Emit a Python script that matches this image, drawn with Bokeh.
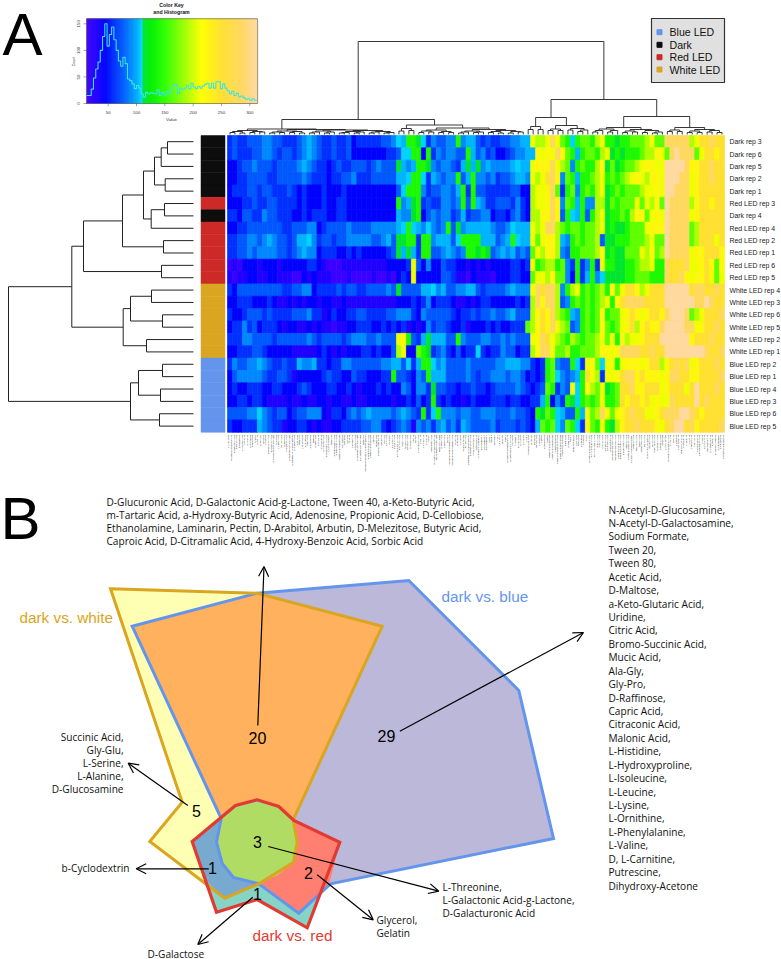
from bokeh.plotting import figure
from bokeh.embed import file_html
from bokeh.resources import INLINE
from bokeh.core.properties import value
from bokeh.models import Range1d, Arrow, OpenHead, LinearColorMapper, ColumnDataSource
import numpy as np

# ------------------ DATA ------------------
ROW_LABELS = ["Dark rep 3","Dark rep 6","Dark rep 5","Dark rep 2","Dark rep 1","Red LED rep 3","Dark rep 4",
              "Red LED rep 4","Red LED rep 2","Red LED rep 1","Red LED rep 6","Red LED rep 5",
              "White LED rep 4","White LED rep 3","White LED rep 6","White LED rep 5","White LED rep 2","White LED rep 1",
              "Blue LED rep 2","Blue LED rep 1","Blue LED rep 4","Blue LED rep 3","Blue LED rep 6","Blue LED rep 5"]
GROUPS = ["Blue LED","Dark","Red LED","White LED"]
GROUP_COLORS = {"Blue LED":"#6495ed","Dark":"#0d0d0d","Red LED":"#cd2a27","White LED":"#daa520"}

# estimated cell levels, one string per row, four blocks of 25 columns
LEVEL_VALUES = dict(zip("abcdefghijklmnopq",[15,30,45,60,75,90,103,109,115,140,165,190,210,225,250,285,312]))
HEAT_1 = ["deddeeeffeedddefgfeddedde","dedddeeffedeedefgfeddedde","ccdeefeeedeeeefgfeddcdedd","ccddeeeeddeeeeefedddcddee",
          "cdddeedeedddedcdcccdcccdc","cccddeddeeddddcdcccdccddc","ddceeddfeedddccdcdddccddc","ccddeeeeeeeddeeeffcdeeeef",
          "ddeeffefgfeedegghfdeedeef","ddeefeffffeedefgffcdddccd","abacccbcccbcccccddcbaaabb","babbccbbccbbbaacbcbbbaaab",
          "dceeeeeeeeeddeeffcddddede","ccdddcccdcbbcbcbccbccbbcb","dccdeeededdddeeefddbcdccd","cddfdecdddcbccbbcbcbbabbc",
          "dddffeeeedeeeeeefedeeeede","ccdddeedcccccbbbbbcdcbcbc","dfeeffgfeddeddgffgddcddff","cefffffeddeedbcccccdeddcc",
          "cdccdddccddcccdedcccddccd","ccddcddcbbbbcbbcbbccbccbb","eeeeffhfedeecdeefffcbddce","dccdddgfeddbccddcbcbbccdd"]
HEAT_2 = ["cdddddeefhgjjihdfeeffjfgg","cccccccddehhjjcjdfeffeejge","eeedefeeeigfgjjifeffedgig","fdddeeeeegghjjhdgfeffjegj",
          "cccccccccehjjjfdeeffegjdj","cccccccccjfgijdeddffefjej","cccccccccgffijcefeffdegde","eeeefffffghjhgfhfefjeifgg",
          "ffffeefgeiijjdjjfgggehjjj","cdcccccdeigigdjjeefgfefjj","bbbbbbbccccdmecfcceddccbc","aaaabaabacdcmccccceedbbac",
          "eddeeeefeieeeegghfgeeffgg","bbbbbbbbbcccdcdfcdddcbbcb","deeddddeefffdcfeeeeedcdde","cdddccdcdcdbcbcfdeedccdbc",
          "fffeefeeemnjedgigggeejfee","ccddcdccelmcckjidefdcecdd","eeeeeeffggehdgjjhfgeeeefe","eddcccddjeedcfejgggeeeefe",
          "cbcccdcdccfecffdieeddcdde","cbbcccccbccdcecdjdcdccbcd","fefgffffefgfedjdhjfffeffe","ddeeffdcdefebfefdfgefdgfe"]
HEAT_3 = ["ededdeeffggmllmpmkjhjkkjl","fdeccdeffggnmnmpnkjgjkkjl","ifgffffghggmnnnpmlkfjkjjl","ffefdeefggfmlmopnfkjgjjkl",
          "eedddddeecclmmnpkdjkfjkjl","gfddeeedfdclmmnpnfkjgjffl","effcddcefdcllnnpnejhgjejl","gggfeefhgggmlmpplkjkkjkkl",
          "jgggefgjhggmkmnnlgfjkjkkl","ijiefgfgefekmlnnlfejjkkkl","bcbccccddcdmjklljkfdjdfjd","bbbacccddcckmmlnkkfcjdgjf",
          "edeeeefgfffmpopplfjlmjkjk","cddcccccdcdlpnpplefjkjkjk","deefeefgeeelnonplkjgfjkjk","ccdcdccdddklnonpmlkefjkjk",
          "effeefefeeemnpomlkjlkjkkl","hdcddfeecddlnppmkkljjkkkl","eeeeffgggffdcdjkfeejhdmnk","deefffeffecdcdjkhfefgjoml",
          "ddcdeeeefedcdekjdfemhjnlk","cccdddcddccddgjcfdjihjkjk","efffeeefeedcjikjhgeejgmkl","eeefdeeededcgkjkhfkjhdnkj"]
HEAT_4 = ["mjjijjkkklmkkppppplmoopoo","mijijjjkllnmkpqpppkmoonoo","nikijkklmnnmmqqqqpnnoopoo","mjkjklmnmlnnmqqqppmnoopoo",
          "mijkjkkklmmnmqqpppmnooooo","likjkkkmkmlnkqpppplnoonoo","mijjkjlnnkmnmqppppmnooooo","mijiijkkkmnnnqppppklooooon",
          "eiijjjkkklmkkqppppklooomo","nijiikkkmlnklqppppmnnooon","mjjiijjkllmjjpooopmmnonkn","hiiiijjkkkjjjpoopnmnnomkm",
          "ljnkmoonlmoooqqqqqoppoopo","lmjnoppppooooqqqqqqppqpoo","njkkmnonmnoonpqqqpklmooop","nkjkmnolnonnpqqqqppmnoopo",
          "mkmjnlmmnoooqqqqqqnooopoo","nnmnppppoopooqqqqqqqqpoop","hmmjmnnnmnoolnopopmnooopo","dmmnoppnonnnmnppoonnoooop",
          "mijkoopnnooomnooomoqooopo","mjjkonoonomnmmpooooqopooo","pmkmnopoommnopppqqponoooo","mjilnoopooonmopqqopnoooop"]

# dendrograms: node = [height, left, right], leaf = 0
ROW_TREE = [185,[121.7,[110,[71,[50,[39,[32.3,[26,0,0],0],[28.3,0,0]],[42.3,[29,0,0],0]],[30,0,0]],[32,0,0]],
            [70.3,[63,[42,0,0],[31,0,0]],[47,0,0]]],[63,[55,[31,0,0],[33,0,0]],[34,0,0]]]
COL_LL = [5.5,[4,[3,[2,0,0],[1.5,0,0]],[3,[2,0,0],[2.5,0,0]]],
          [5,[3.5,[2.5,[1.5,0,0],[2,0,0]],[3,[2,0,0],[1.5,0,0]]],
           [4.5,[3.5,[2.5,[1.5,0,0],0],[2.5,[1.5,0,0],0]],
            [4,[3,[2,[1.5,0,0],0],[2.5,[1.5,0,0],0]],[3,[2.5,[1.5,0,0],0],[2,[1.5,0,0],0]]]]]]
COL_LR = [9.5,[6,[3.5,0,0],[4,0,0]],
          [6.5,[4.5,[3.5,[2,0,0],[2.5,0,0]],[3,[2,0,0],[2,0,0]]],
           [5,[3.5,[2.5,[1.5,0,0],0],[2.5,[2,0,0],0]],[4,[3,[2,0,0],[1.5,0,0]],[3,[1.5,0,0],[2.5,0,0]]]]]]
COL_R1 = [17,[8,[5,0,0],[5,0,0]],[9,[5.5,[4,0,0],[4,0,0]],[6,[4.5,0,0],[4.5,[3,0,0],0]]]]
COL_R2 = [18,[7,[5.5,[4,[2.5,0,0],0],[4,[2.5,0,0],0]],[5,[3.5,[2,0,0],[2.5,0,0]],[4,[2,0,0],[2.5,[1.5,0,0],0]]]],
          [7,[4.5,[3,0,0],[3,0,0]],[5,[3.5,[2,0,0],[2,0,0]],[4,[2.5,0,0],[2,0,0]]]]]
COL_TREE = [93,[15,COL_LL,COL_LR],[35,COL_R1,COL_R2]]

# histogram of the colour key: 75 bins, width 4, from value 12
HIST_COUNTS = [15,15,27,48,65,78,100,126,150,108,130,144,120,100,80,70,87,75,46,43,37,28,34,29,18,12,21,18,20,19,
               18,26,15,21,16,23,18,29,36,36,19,29,26,29,34,28,38,31,28,32,29,33,36,38,29,38,29,41,41,28,
               37,29,24,18,23,15,19,13,14,11,8,9,6,9,6]
KEY_X_TICKS = [50,100,150,200,250,300]
KEY_Y_TICKS = [0,50,100,150]

COMPOUNDS = """L-Arabinose|N-Acetyl-D-Glucosamine|D-Saccharic Acid|Succinic Acid|D-Galactose|L-Aspartic Acid|L-Proline|D-Alanine|D-Trehalose|D-Mannose|Dulcitol|D-Serine|D-Sorbitol|Glycerol|L-Fucose|D-Glucuronic Acid|D-Gluconic Acid|D,L-a-Glycerol Phosphate|D-Xylose|L-Lactic Acid|Formic Acid|D-Mannitol|L-Glutamic Acid|D-Glucose-6-Phosphate|D-Galactonic Acid-g-Lactone|D,L-Malic Acid|D-Ribose|Tween 20|L-Rhamnose|D-Fructose|Acetic Acid|a-D-Glucose|Maltose|D-Melibiose|Thymidine|L-Asparagine|D-Aspartic Acid|D-Glucosaminic Acid|1,2-Propanediol|Tween 40|a-Keto-Glutaric Acid|a-Keto-Butyric Acid|a-Methyl-D-Galactoside|a-D-Lactose|Lactulose|Sucrose|Uridine|L-Glutamine|m-Tartaric Acid|D-Glucose-1-Phosphate|D-Fructose-6-Phosphate|Tween 80|a-Hydroxy-Glutaric Acid-g-Lactone|a-Hydroxy-Butyric Acid|b-Methyl-D-Glucoside|Adonitol|Maltotriose|2-Deoxy-Adenosine|Adenosine|Gly-Asp|Citric Acid|m-Inositol|D-Threonine|Fumaric Acid|Bromo-Succinic Acid|Propionic Acid|Mucic Acid|Glycolic Acid|Glyoxylic Acid|D-Cellobiose|Inosine|Gly-Gln|Tricarballylic Acid|L-Serine|L-Threonine|L-Alanine|Ala-Gly|Acetoacetic Acid|N-Acetyl-b-D-Mannosamine|Mono-Methyl Succinate|Methyl Pyruvate|D-Malic Acid|L-Malic Acid|Gly-Pro|p-Hydroxy-Phenylacetic Acid|m-Hydroxy-Phenylacetic Acid|Tyramine|D-Psicose|L-Lyxose|Glucuronamide|Pyruvic Acid|L-Galactonic Acid-g-Lactone|D-Galacturonic Acid|b-Phenylethylamine|Ethanolamine|Chondroitin Sulfate C|a-Cyclodextrin|b-Cyclodextrin|g-Cyclodextrin|Dextrin|Gelatin|Glycogen|Inulin|Laminarin|Mannan|Pectin|N-Acetyl-D-Galactosamine|N-Acetyl-Neuraminic Acid|b-D-Allose|Amygdalin|D-Arabinose|D-Arabitol|L-Arabitol|Arbutin|2-Deoxy-D-Ribose|i-Erythritol|D-Fucose|Gentiobiose|L-Glucose|Lactitol|D-Melezitose|Maltitol|a-Methyl-D-Glucoside|b-Methyl-D-Galactoside|3-Methylglucose|b-Methyl-D-Glucuronic Acid|a-Methyl-D-Mannoside|b-Methyl-D-Xyloside|Palatinose|D-Raffinose|Salicin|Sedoheptulosan|L-Sorbose|Stachyose|D-Tagatose|Turanose|Xylitol|N-Acetyl-D-Glucosaminitol|g-Amino-Butyric Acid|d-Amino Valeric Acid|Butyric Acid|Capric Acid|Caproic Acid|Citraconic Acid|Citramalic Acid|D-Glucosamine|2-Hydroxy-Benzoic Acid|4-Hydroxy-Benzoic Acid|b-Hydroxy-Butyric Acid|g-Hydroxy-Butyric Acid|a-Keto-Valeric Acid|Itaconic Acid|5-Keto-D-Gluconic Acid|D-Lactic Acid Methyl Ester|Malonic Acid|Melibionic Acid|Oxalic Acid|Oxalomalic Acid|Quinic Acid|D-Ribono-1,4-Lactone|Sebacic Acid|Sorbic Acid|Succinamic Acid|D-Tartaric Acid|L-Tartaric Acid|Acetamide|L-Alaninamide|N-Acetyl-L-Glutamic Acid|L-Arginine|Glycine|L-Histidine|L-Homoserine|Hydroxy-L-Proline|L-Isoleucine|L-Leucine|L-Lysine|L-Methionine|L-Ornithine|L-Phenylalanine|L-Pyroglutamic Acid|L-Valine|D,L-Carnitine|Sec-Butylamine|D,L-Octopamine|Putrescine|Dihydroxy-Acetone|2,3-Butanediol|2,3-Butanone|3-Hydroxy-2-Butanone""".split("|")

# Panel B
TOP_LINES = ["D-Glucuronic Acid, D-Galactonic Acid-g-Lactone, Tween 40, a-Keto-Butyric Acid,",
             "m-Tartaric Acid, a-Hydroxy-Butyric Acid, Adenosine, Propionic Acid, D-Cellobiose,",
             "Ethanolamine, Laminarin, Pectin, D-Arabitol, Arbutin, D-Melezitose, Butyric Acid,",
             "Caproic Acid, D-Citramalic Acid, 4-Hydroxy-Benzoic Acid, Sorbic Acid"]
RIGHT_LINES = ["N-Acetyl-D-Glucosamine,","N-Acetyl-D-Galactosamine,","Sodium Formate,","Tween 20,","Tween 80,","Acetic Acid,",
               "D-Maltose,","a-Keto-Glutaric Acid,","Uridine,","Citric Acid,","Bromo-Succinic Acid,","Mucic Acid,","Ala-Gly,",
               "Gly-Pro,","D-Raffinose,","Capric Acid,","Citraconic Acid,","Malonic Acid,","L-Histidine,","L-Hydroxyproline,",
               "L-Isoleucine,","L-Leucine,","L-Lysine,","L-Ornithine,","L-Phenylalanine,","L-Valine,","D, L-Carnitine,",
               "Putrescine,","Dihydroxy-Acetone"]
LEFT_LINES = ["Succinic Acid,","Gly-Glu,","L-Serine,","L-Alanine,","D-Glucosamine"]
THREE_LINES = ["L-Threonine,","L-Galactonic Acid-g-Lactone,","D-Galacturonic Acid"]
TWO_LINES = ["Glycerol,","Gelatin"]

BLUE_POLY = ([131.7,256.7,408.3,518.3,553,330,298.3,258.3,233,221.7,216,220.7],
             [625.7,592.7,580,690,838,883.3,912.7,883.3,877,863,841.7,818])
WHITE_POLY = ([110,256.7,381.7,292.7,296.7,293,258.3,224.3,149.3,181.7],
              [588.3,592.7,625.7,819.3,842,861.7,883.3,897.7,841,801.7])
ORANGE_POLY = ([131.7,256.7,381.7,292.7,220.7],[625.7,592.7,625.7,819.3,818])
RED_POLY = ([256.7,235,191.7,216,256.7,306.7,339.3,293.3,278.3],
            [799.3,805,841,911.7,899,927.3,841.7,820,806])
SALMON_POLY = ([293.3,339.3,328.3,298.3,258.3,293,297.3],[820,841.7,885,912.7,883.3,861.7,841.7])
STEEL_POLY = ([220.7,191.7,203.3,224.3,258.3,233,221.7,216],[818,841,878,897.7,883.3,877,863,841.7])
GREEN_POLY = ([256.7,236.7,220.7,216.7,221.7,235,258.3,276.7,292.7,297.3,292.7,278.3],
              [801.7,806,818,841.7,861.7,876.7,881.7,875,861.7,841.7,820,806])
COUNTS = [("20",257,737),("29",386,735),("5",196,810),("3",257,841),("2",308,872),("1",212,867),("1",257,893)]
ARROWS = [(257.3,725,263.5,566),(399.3,730.7,583,632),(187.3,805,127.7,762.7),(208.3,868.3,135.7,868.3),
          (252.3,896.7,197.3,944),(267.7,846,438.3,890.7),(316.7,874.3,372.7,919.3)]

# ------------------ FIGURE ------------------
X0, X1, Y0, Y1 = 0, 781, 959, 0
p = figure(width=781, height=959, x_range=Range1d(X0, X1), y_range=Range1d(Y0, Y1), x_axis_type=None, y_axis_type=None,
           toolbar_location=None, output_backend="svg", min_border=0, outline_line_color=None, background_fill_color="white")

def xr(p0, v0, p1, v1):
    s = (v1 - v0) / (p1 - p0)
    return Range1d(start=v0 + (X0 - p0) * s, end=v0 + (X1 - p0) * s)
def yr(p0, v0, p1, v1):
    s = (v1 - v0) / (p1 - p0)
    return Range1d(start=v0 + (Y0 - p0) * s, end=v0 + (Y1 - p0) * s)

p.extra_x_ranges = {"key": xr(107.7, 50, 249.3, 300), "heat": xr(227, 0, 724, 100), "rowh": xr(193, 0, 8, 185)}
p.extra_y_ranges = {"key": yr(103, 0, 23.3, 150), "heat": yr(135, 0, 431.8, 24), "colh": yr(134, 0, 41, 93)}

SANS = value("Liberation Sans")
BODY = value("Open Sans")

stops_v = [12,30,45,60,75,90,103,110,110.9,125,150,180,215,250,285,313]
stops_c = ["#4000ff","#2000ff","#0000ff","#0030ff","#0058ff","#0088ff","#00b4ff","#00e0ff","#00e040","#00f000","#30ff00","#90ff00","#ffff00","#ffe030","#ffd860","#ffd9a0"]
rgb = np.array([[int(c[i:i+2],16) for i in (1,3,5)] for c in stops_c], float)
grid = np.arange(12, 314)
palette = ["#%02x%02x%02x" % tuple(int(round(np.interp(g, stops_v, rgb[:,k]))) for k in range(3)) for g in grid]
mapper = LinearColorMapper(palette=palette, low=12, high=314)

# colour key + histogram
p.quad(left=grid[:-1], right=grid[1:], bottom=0, top=159.5,
       fill_color=[palette[i] for i in range(len(grid)-1)], line_color=[palette[i] for i in range(len(grid)-1)], line_width=0.5,
       x_range_name="key", y_range_name="key")
p.quad(left=[11.7], right=[313.8], bottom=[0], top=[159.5], fill_alpha=0, line_color="#6b6b5a", line_width=0.7,
       x_range_name="key", y_range_name="key")
edges = [12 + 4*i for i in range(len(HIST_COUNTS)+1)]
p.step(x=edges, y=HIST_COUNTS+[HIST_COUNTS[-1]], mode="after", line_color="#38e4e4", line_width=1.1,
       x_range_name="key", y_range_name="key")
p.segment(x0=KEY_X_TICKS, x1=KEY_X_TICKS, y0=[0]*6, y1=[-5]*6, line_color="#444", line_width=0.5, x_range_name="key", y_range_name="key")
p.segment(x0=[11.7]*4, x1=[6.5]*4, y0=KEY_Y_TICKS, y1=KEY_Y_TICKS, line_color="#444", line_width=0.5, x_range_name="key", y_range_name="key")
p.text(x=KEY_X_TICKS, y=[-17]*6, text=[str(t) for t in KEY_X_TICKS], text_font=SANS, text_font_size="4.4px", text_color="#333",
       text_align="center", text_baseline="middle", x_range_name="key", y_range_name="key")
p.text(x=[-3]*4, y=KEY_Y_TICKS, text=[str(t) for t in KEY_Y_TICKS], angle=np.pi/2, text_font=SANS, text_font_size="4.4px", text_color="#333",
       text_align="center", text_baseline="middle", x_range_name="key", y_range_name="key")
p.text(x=[171], y=[119], text=["Value"], text_font=SANS, text_font_size="4.4px", text_color="#333", text_align="center", text_baseline="middle")
p.text(x=[73], y=[61], text=["Count"], angle=np.pi/2, text_font=SANS, text_font_size="3.6px", text_color="#333", text_align="center", text_baseline="middle")
p.text(x=[171,171], y=[4.5,11], text=["Color Key","and Histogram"], text_font=SANS, text_font_size="5.2px", text_font_style="bold",
       text_color="#111", text_align="center", text_baseline="middle")

# heatmap
heat_rows = [a+b+c+d for a,b,c,d in zip(HEAT_1,HEAT_2,HEAT_3,HEAT_4)]
cl, cr, ct, cb, cv = [], [], [], [], []
for r, row in enumerate(heat_rows):
    for c, ch in enumerate(row[:100].ljust(100, row[-1])):
        cl.append(c); cr.append(c+1); ct.append(r); cb.append(r+1); cv.append(LEVEL_VALUES[ch])
p.quad(source=ColumnDataSource(dict(l=cl,r=cr,t=ct,b=cb,v=cv)), left="l", right="r", top="t", bottom="b",
       fill_color={"field":"v","transform":mapper}, line_color={"field":"v","transform":mapper}, line_width=0.7,
       x_range_name="heat", y_range_name="heat")

# side colour bar
side = [next(g for g in GROUPS if lab.startswith(g.split(" LED")[0])) for lab in ROW_LABELS]
ri = list(range(24))
p.quad(left=200.5, right=224.5, top=ri, bottom=[i+1 for i in ri], fill_color=[GROUP_COLORS[s] for s in side],
       line_color=[GROUP_COLORS[s] for s in side], line_width=0.5, y_range_name="heat")

# row labels
p.text(x=[729]*24, y=[i+.5 for i in ri], text=ROW_LABELS, text_font=SANS, text_font_size="6.9px", text_color="#222",
       text_align="left", text_baseline="middle", y_range_name="heat")

# tiny column labels
n = len(COMPOUNDS)
p.text(x=[(i+.5)*100/n for i in range(n)], y=[434.5]*n, text=COMPOUNDS, angle=np.pi/2, text_font=SANS, text_font_size="2.4px",
       text_color="#000", text_align="right", text_baseline="middle", x_range_name="heat")

# dendrograms
def walk(node, counter, segs):
    if node == 0:
        counter[0] += 1
        return counter[0] - .5, 0
    h, a, b = node
    pa, ha = walk(a, counter, segs)
    pb, hb = walk(b, counter, segs)
    segs += [(pa, ha, pa, h), (pb, hb, pb, h), (pa, h, pb, h)]
    return (pa+pb)/2, h
segs = []; walk(ROW_TREE, [0], segs)
s = np.array(segs)
p.segment(x0=s[:,1], x1=s[:,3], y0=s[:,0], y1=s[:,2], line_color="#222", line_width=1, x_range_name="rowh", y_range_name="heat")
segs = []; walk(COL_TREE, [0], segs)
s = np.array(segs)
p.segment(x0=s[:,0], x1=s[:,2], y0=s[:,1], y1=s[:,3], line_color="#222", line_width=0.9, x_range_name="heat", y_range_name="colh")

# group key (top right)
p.quad(left=[651], right=[724], top=[18], bottom=[82], fill_color="#e0e0e0", line_color="#333", line_width=1.2)
gy = [31.7,44.3,56.7,69]
p.scatter(x=[659]*4, y=gy, marker="square", size=5, color=[GROUP_COLORS[g] for g in GROUPS])
p.text(x=[669]*4, y=gy, text=GROUPS, text_font=SANS, text_font_size="10.6px", text_color="#111", text_align="left", text_baseline="middle")

# panel letters
p.text(x=[2,0], y=[34,518], text=["A","B"], text_font=SANS, text_font_size="60px", text_color="#000", text_align="left", text_baseline="alphabetic")

# Venn
p.patch(*WHITE_POLY, fill_color="#ffffb3", line_color=None)
p.patch(*BLUE_POLY, fill_color="#bcb8d9", line_color=None)
p.patch(*ORANGE_POLY, fill_color="#ffb15e", line_color=None)
p.patch(*RED_POLY, fill_color="#86d4c6", line_color=None)
p.patch(*SALMON_POLY, fill_color="#ff8070", line_color=None)
p.patch(*STEEL_POLY, fill_color="#78a9cf", line_color=None)
p.patch(*GREEN_POLY, fill_color="#b1dc63", line_color=None)
p.patch(*BLUE_POLY, fill_alpha=0, line_color="#6495ed", line_width=3, line_join="miter")
p.patch(*WHITE_POLY, fill_alpha=0, line_color="#daa520", line_width=3, line_join="miter")
p.patch(*RED_POLY, fill_alpha=0, line_color="#e23a33", line_width=3.2, line_join="miter")

for x0,y0,x1,y1 in ARROWS:
    p.add_layout(Arrow(end=OpenHead(size=10, line_width=1.2, line_color="#000"), x_start=x0, y_start=y0, x_end=x1, y_end=y1,
                       line_color="#000", line_width=1.2))

p.text(x=[c[1] for c in COUNTS], y=[c[2] for c in COUNTS], text=[c[0] for c in COUNTS], text_font=SANS, text_font_size="16px",
       text_color="#000", text_align="center", text_baseline="middle")
p.text(x=[19,441,252], y=[617,596,935], text=["dark vs. white","dark vs. blue","dark vs. red"], text_font=SANS, text_font_size="15.3px",
       text_color=["#daa520","#6495ed","#e23a33"], text_align="left", text_baseline="middle")

def block(lines, x, y0, step, align="left"):
    p.text(x=[x]*len(lines), y=[y0+step*i for i in range(len(lines))], text=lines, text_font=BODY, text_font_size="10.1px",
           text_color="#111", text_align=align, text_baseline="middle")
block(TOP_LINES, 106, 501, 13.2)
block(RIGHT_LINES, 608, 509, 13.43)
block(LEFT_LINES, 123, 736, 13.2, "right")
block(THREE_LINES, 442, 886, 13.2)
block(TWO_LINES, 376, 919, 13.2)
block(["b-Cyclodextrin"], 129, 867, 0, "right")
block(["D-Galactose"], 147, 953, 0)

open("out.html", "w").write(file_html(p, INLINE))
